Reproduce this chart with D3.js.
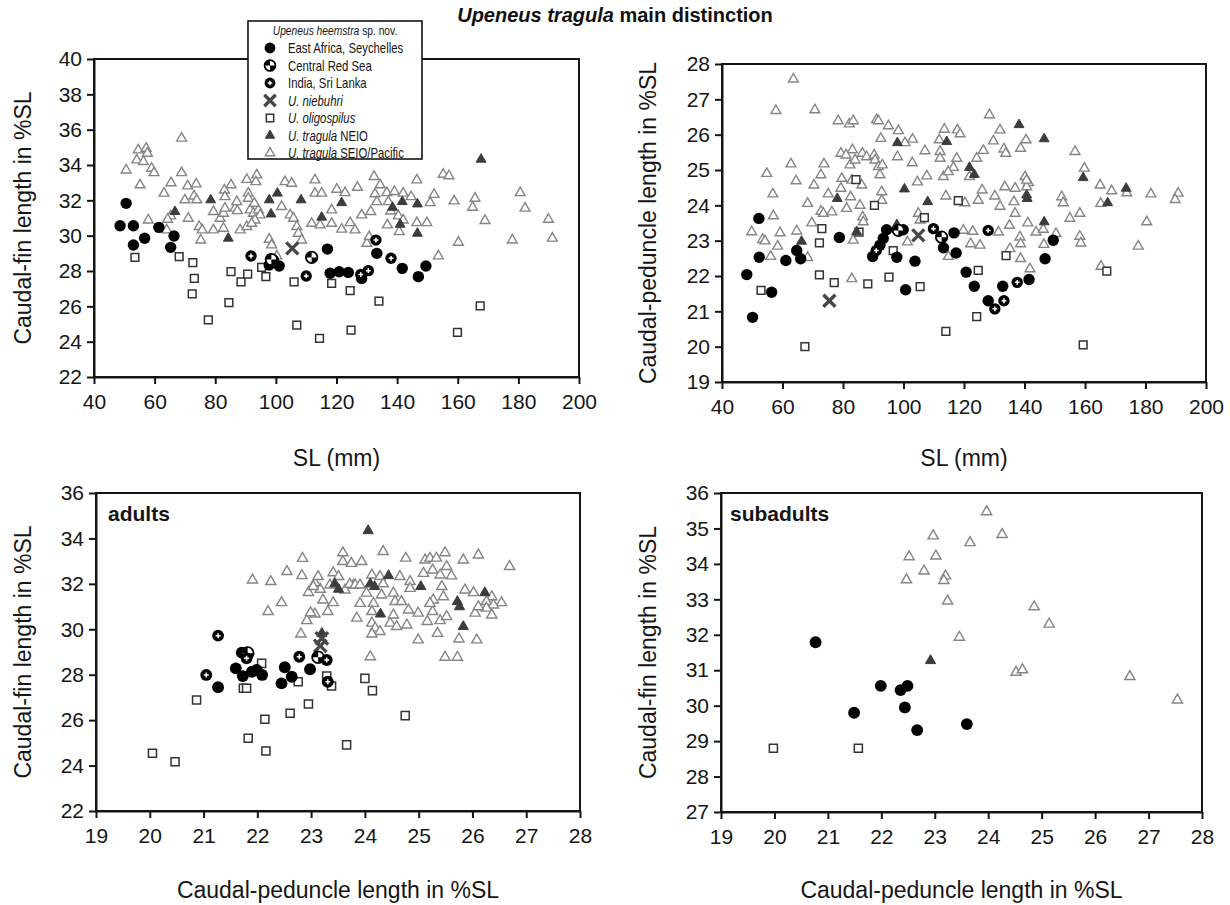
<!DOCTYPE html>
<meta charset="utf-8">
<style>
body { margin: 0; background: #fff; }
svg { font-family: "Liberation Sans", Arial, Helvetica, sans-serif; }
.axis text { font-size: 21px; fill: #151515; font-family: "Liberation Sans", Arial, sans-serif; }
.axis line, .axis path { stroke: #151515; stroke-width: 2; }
.atitle { font-size: 23px; fill: #151515; }
.leg { font-size: 14px; fill: #151515; }
</style>
<body>
<script src="https://d3js.org/d3.v7.min.js"></script>
<script>

// ---- tick labels
var slTicks = [40, 60, 80, 100, 120, 140, 160, 180, 200];
var finTicksTop = [22, 24, 26, 28, 30, 32, 34, 36, 38, 40];
var pedTicksTop = [19, 20, 21, 22, 23, 24, 25, 26, 27, 28];
var pedTicksBottom = [19, 20, 21, 22, 23, 24, 25, 26, 27, 28];
var finTicksAdults = [22, 24, 26, 28, 30, 32, 34, 36];
var finTicksSub = [27, 28, 29, 30, 31, 32, 33, 34, 35, 36];

// ---- panel 1: SL (mm) vs caudal-fin length %SL
var p1EastAfrica = [[50.6,31.83],[48.6,30.56],[53.0,30.56],[53.0,29.47],[56.7,29.85],[61.4,30.47],[66.4,29.98],[65.3,29.34],[99.2,28.62],[97.8,28.34],[101.1,28.28],[117.0,29.24],[117.9,27.87],[120.9,27.96],[123.9,27.92],[128.3,27.58],[133.3,29.0],[141.7,28.15],[147.0,27.68],[149.5,28.28]];
var p1RedSea = [[111.8,28.77],[98.5,28.65]];
var p1India = [[91.8,28.85],[110.0,27.72],[133.0,29.75],[138.0,28.72],[130.5,28.02],[128.0,27.8]];
var p1Niebuhri = [[105.4,29.28]];
var p1Oligospilus = [[53.5,28.77],[68.1,28.81],[72.6,28.47],[73.1,27.58],[72.4,26.70],[77.7,25.23],[84.5,26.21],[85.2,27.96],[88.5,27.39],[90.7,27.83],[95.3,28.21],[96.7,27.68],[106.0,27.39],[106.9,24.94],[114.4,24.19],[118.4,27.30],[124.5,26.89],[134.0,26.30],[124.8,24.66],[159.9,24.53],[167.4,26.03]];
var p1Neio = [[66.7,31.36],[78.5,32.02],[84.3,29.85],[97.8,32.02],[100.5,32.40],[98.4,31.22],[108.3,32.02],[121.7,31.86],[115.1,31.04],[138.5,31.60],[141.7,31.92],[146.7,31.79],[141.0,30.64],[146.7,30.13],[167.7,34.32]];
var p1Seio = [[50.6,33.71],[54.6,34.85],[54.1,34.28],[57.2,34.94],[57.6,34.66],[56.3,34.19],[59.0,33.81],[59.8,33.56],[55.2,32.87],[57.9,30.88],[63.1,32.40],[65.4,32.99],[68.9,35.51],[68.9,33.56],[70.9,32.81],[73.7,32.92],[70.0,32.02],[73.0,32.24],[73.9,32.02],[71.1,30.98],[74.7,30.51],[75.7,30.32],[75.2,29.75],[65.3,31.11],[64.3,30.92],[64.0,30.32],[79.4,30.32],[79.4,31.36],[81.6,30.98],[82.7,31.26],[83.2,31.55],[83.0,32.58],[85.2,32.87],[83.2,32.20],[86.5,31.55],[87.3,31.41],[87.1,31.92],[82.7,30.41],[88.2,30.32],[90.4,30.51],[90.4,33.18],[90.9,32.40],[90.9,32.11],[93.7,33.43],[93.4,33.05],[91.5,31.45],[92.6,31.26],[94.2,31.45],[94.8,31.17],[92.9,31.83],[93.1,30.88],[92.0,30.69],[97.8,29.79],[98.6,29.47],[100.3,28.85],[101.9,31.64],[103.0,33.05],[105.2,32.96],[104.7,31.17],[105.8,30.98],[106.9,30.51],[107.4,30.13],[108.5,29.75],[112.9,33.15],[112.9,32.40],[111.8,30.69],[115.1,32.40],[120.1,32.62],[122.8,32.43],[126.9,32.73],[132.4,33.34],[134.4,32.87],[132.7,32.36],[136.6,32.43],[139.1,32.49],[142.0,32.40],[144.6,32.20],[146.5,33.15],[152.2,32.33],[155.2,33.47],[157.1,33.38],[158.8,31.96],[165.7,32.11],[164.9,31.60],[169.0,30.85],[180.6,32.43],[182.2,31.55],[189.9,30.92],[191.2,29.85],[178.0,29.75],[160.2,29.62],[153.6,28.85],[149.8,30.73],[146.5,30.73],[150.9,31.86],[137.1,31.92],[133.3,31.92],[131.3,31.36],[128.3,31.17],[124.5,30.73],[121.7,30.36],[126.1,30.32],[136.8,30.60],[140.7,30.22],[130.0,29.56],[130.8,29.94],[118.4,30.69],[114.6,30.60],[118.4,31.45],[137.9,31.39],[140.4,31.11],[142.0,30.88]];

// ---- panel 2: SL (mm) vs caudal-peduncle length %SL
var p2EastAfrica = [[48.2,22.04],[50.1,20.83],[52.2,23.63],[52.3,22.53],[56.4,21.54],[61.1,22.44],[64.7,22.72],[66.0,22.49],[78.8,23.09],[89.8,22.55],[92.2,22.87],[93.3,23.06],[94.4,23.31],[97.8,22.53],[100.7,21.61],[99.9,23.31],[103.8,22.42],[113.2,22.80],[116.7,23.22],[117.4,22.65],[120.7,22.11],[123.4,21.71],[128.0,21.30],[132.8,21.71],[141.5,21.90],[146.8,22.49],[149.5,23.01]];
var p2RedSea = [[112.6,23.10],[98.3,23.29]];
var p2India = [[91.0,22.72],[109.9,23.34],[128.0,23.29],[130.2,21.07],[133.2,21.30],[137.6,21.82]];
var p2Niebuhri = [[75.5,21.30],[104.9,23.15]];
var p2Oligospilus = [[52.9,21.59],[67.4,20.0],[73.0,23.34],[72.2,22.94],[72.2,22.03],[77.1,21.81],[84.3,24.73],[85.3,23.24],[88.2,21.78],[90.4,24.0],[96.6,22.72],[95.2,21.97],[106.9,23.65],[105.5,21.70],[114.0,20.43],[118.1,24.13],[124.7,22.16],[124.2,20.85],[133.9,22.58],[159.4,20.05],[167.2,22.14]];
var p2Neio = [[66.3,22.98],[78.1,24.19],[84.5,23.25],[97.8,23.45],[98.0,25.77],[100.3,24.46],[108.0,24.10],[114.3,25.80],[121.8,25.07],[123.4,24.87],[138.2,26.28],[146.5,25.88],[159.4,24.78],[173.6,24.48],[167.5,24.07],[140.7,24.29],[140.9,24.19],[146.5,23.53]];
var p2Seio = [[63.6,27.57],[57.8,26.68],[70.7,26.70],[78.4,26.39],[82.1,26.30],[83.4,26.39],[91.1,26.42],[91.7,26.39],[95.0,26.25],[98.3,26.11],[103.0,25.87],[92.5,25.89],[100.5,25.77],[62.8,25.17],[54.8,24.90],[56.8,24.32],[64.5,24.69],[57.0,23.70],[49.8,23.25],[53.4,23.03],[54.2,22.99],[56.1,22.55],[59.2,23.22],[58.4,22.84],[64.7,23.27],[68.3,22.52],[68.3,24.05],[70.4,24.57],[72.7,24.86],[73.7,25.17],[69.7,23.50],[72.7,23.83],[73.5,23.77],[75.1,24.32],[76.3,23.81],[79.3,25.47],[79.3,24.48],[79.6,24.76],[81.2,23.91],[82.5,24.24],[82.9,24.71],[83.1,25.57],[81.0,25.42],[82.3,25.14],[84.0,25.28],[86.4,25.47],[86.2,24.57],[85.6,24.0],[86.5,23.67],[86.7,23.53],[83.4,23.01],[82.9,21.92],[87.8,25.37],[90.3,25.42],[90.6,25.28],[91.7,25.09],[93.0,25.14],[92.2,24.86],[92.8,24.38],[92.8,24.14],[98.0,25.37],[102.9,25.20],[107.1,25.54],[104.6,24.66],[107.7,24.83],[104.9,23.77],[101.3,22.96],[105.5,23.58],[128.4,26.56],[131.9,26.13],[113.5,26.15],[117.8,26.13],[118.7,26.02],[111.8,25.85],[140.5,25.85],[129.7,25.82],[156.7,25.52],[126.4,25.55],[133.2,25.59],[138.7,25.61],[133.8,25.47],[112.1,25.52],[112.1,25.33],[117.6,25.33],[124.2,25.33],[116.5,25.07],[113.2,24.81],[121.8,24.81],[114.8,24.95],[159.8,25.05],[140.2,24.81],[141.3,24.64],[126.0,24.43],[133.5,24.52],[136.9,24.48],[130.2,24.26],[124.7,24.14],[114.0,24.26],[120.3,24.07],[131.9,23.97],[136.5,24.10],[140.7,24.52],[140.7,24.71],[152.3,24.24],[152.8,24.07],[165.0,24.57],[168.8,24.41],[173.8,24.35],[181.8,24.32],[190.8,24.34],[189.8,24.16],[165.2,24.05],[136.9,23.77],[141.1,23.50],[143.8,23.24],[135.0,23.43],[131.4,23.24],[122.9,23.26],[119.8,23.29],[122.2,22.91],[125.3,22.87],[135.2,22.77],[138.5,23.10],[138.7,22.91],[138.7,22.49],[141.8,22.20],[146.2,23.32],[146.4,22.89],[150.4,23.20],[155.0,23.63],[158.3,23.77],[158.3,23.12],[158.6,22.93],[165.3,22.27],[177.6,22.84],[180.4,23.53],[114.8,22.55]];

// ---- panel 3: adults, peduncle vs fin
var p3EastAfrica = [[21.27,27.45],[21.60,28.28],[21.71,28.97],[21.73,27.94],[21.90,28.13],[21.99,28.21],[22.09,27.99],[22.45,27.62],[22.51,28.33],[22.64,27.91],[22.98,28.24]];
var p3RedSea = [[23.13,28.77],[21.82,28.95]];
var p3India = [[21.27,29.72],[21.05,27.99],[21.80,28.72],[22.78,28.79],[23.29,28.65],[23.31,27.69]];
var p3Niebuhri = [[23.17,29.27],[23.2,29.6]];
var p3Oligospilus = [[20.87,26.89],[20.05,24.54],[20.47,24.17],[22.14,26.04],[21.83,25.20],[22.16,24.64],[22.61,26.30],[22.95,26.71],[21.74,27.40],[21.80,27.40],[22.08,28.50],[22.76,27.69],[23.66,24.91],[23.29,27.94],[23.38,27.50],[24.0,27.84],[24.14,27.30],[24.75,26.20]];
var p3Neio = [[23.20,29.82],[23.44,32.0],[23.51,31.76],[24.06,34.34],[24.44,32.36],[24.10,32.0],[24.18,31.88],[25.04,31.88],[24.29,30.67],[25.72,31.22],[25.76,30.99],[26.23,31.61],[25.83,30.12]];
var p3Seio = [[21.91,32.17],[22.25,32.10],[22.55,32.54],[22.84,33.12],[22.83,32.36],[22.45,31.17],[22.20,30.78],[22.81,29.79],[22.92,30.38],[23.07,30.67],[23.31,30.78],[22.95,31.62],[23.17,31.76],[23.22,31.29],[23.07,32.05],[23.41,31.17],[23.59,33.37],[23.59,32.98],[23.75,32.90],[23.41,32.49],[23.51,32.32],[23.13,32.32],[22.99,30.73],[23.04,31.88],[23.35,31.95],[23.63,31.73],[23.79,31.95],[23.85,30.49],[23.94,32.98],[24.34,33.42],[24.76,33.13],[25.12,33.05],[25.21,33.13],[25.33,33.13],[25.49,33.37],[25.83,33.05],[26.11,33.27],[26.69,32.76],[23.72,31.98],[23.82,31.95],[23.91,31.95],[24.13,32.39],[24.28,32.32],[24.65,32.32],[24.84,32.10],[25.09,32.46],[25.26,32.61],[25.40,32.39],[25.52,32.76],[25.61,32.35],[24.84,31.80],[25.43,31.88],[25.86,31.73],[26.02,31.61],[26.36,31.43],[26.54,31.17],[26.26,31.22],[26.39,31.07],[26.26,30.93],[26.05,30.71],[26.36,30.63],[26.11,30.99],[23.91,31.14],[24.03,31.59],[24.16,31.14],[24.31,31.51],[24.53,31.59],[24.56,31.22],[24.68,31.22],[24.81,30.85],[24.13,30.78],[24.13,30.27],[24.19,30.05],[24.28,29.90],[24.13,29.79],[24.47,30.27],[24.59,30.12],[24.78,30.19],[24.53,30.63],[24.99,30.71],[25.16,30.34],[25.26,30.78],[25.40,30.38],[25.52,30.56],[25.27,31.29],[25.46,31.43],[25.21,31.14],[24.99,29.53],[25.35,29.82],[25.75,29.57],[26.08,29.53],[24.10,28.79],[25.49,28.77],[25.72,28.77],[24.34,32.0]];

// ---- panel 4: subadults, peduncle vs fin
var p4EastAfrica = [[20.77,31.79],[21.49,29.80],[21.99,30.56],[22.36,30.44],[22.49,30.56],[22.44,29.95],[22.67,29.31],[23.60,29.48]];
var p4Oligospilus = [[19.98,28.80],[21.57,28.80]];
var p4Neio = [[22.92,31.27]];
var p4Seio = [[23.97,35.47],[22.97,34.79],[24.26,34.83],[23.66,34.60],[22.52,34.20],[23.02,34.22],[22.80,33.80],[22.47,33.55],[23.20,33.66],[23.17,33.53],[23.24,32.95],[24.86,32.79],[25.14,32.30],[23.46,31.93],[24.52,30.94],[24.64,31.01],[26.65,30.82],[27.54,30.16]];

// ---- legend entries
var legendTypes = ["east", "redsea", "india", "niebuhri", "oligo", "neio", "seio"];
var legendItalic = ["", "", "", "U. niebuhri", "U. oligospilus", "U. tragula", "U. tragula"];
var legendPlain = ["East Africa, Seychelles", "Central Red Sea", "India, Sri Lanka", "", "", " NEIO", " SEIO/Pacific"];

var width = 1230, height = 905;

var svg = d3.select("body").append("svg")
    .attr("width", width)
    .attr("height", height);

// markers
function marker(g, type, ms) {
  var r = 5.7 * ms;
  if (type == "east") {
    g.append("circle").attr("r", r).attr("fill", "#000");
  } else if (type == "redsea") {
    g.append("circle").attr("r", r).attr("fill", "#fff").attr("stroke", "#000").attr("stroke-width", 1.8);
    var arc = d3.arc().innerRadius(0).outerRadius(r);
    g.append("path").attr("d", arc({startAngle: -Math.PI / 2, endAngle: 0})).attr("fill", "#000");
    g.append("path").attr("d", arc({startAngle: Math.PI / 2, endAngle: Math.PI})).attr("fill", "#000");
  } else if (type == "india") {
    g.append("circle").attr("r", r).attr("fill", "#000");
    g.append("path").attr("d", "M" + (-2.4 * ms) + ",0H" + (2.4 * ms) + "M0," + (-2.4 * ms) + "V" + (2.4 * ms))
      .attr("stroke", "#fff").attr("stroke-width", 1.5);
  } else if (type == "niebuhri") {
    var h = 6 * ms;
    g.append("path").attr("d", "M" + -h + "," + -h + "L" + h + "," + h + "M" + -h + "," + h + "L" + h + "," + -h)
      .attr("stroke", "#474747").attr("stroke-width", 3.4);
  } else if (type == "oligo") {
    g.append("path").attr("d", d3.symbol(d3.symbolSquare, 60 * ms * ms)())
      .attr("fill", "#fff").attr("stroke", "#333").attr("stroke-width", 1.5);
  } else if (type == "neio") {
    g.append("path").attr("d", d3.symbol(d3.symbolTriangle, 42 * ms * ms)())
      .attr("fill", "#3c3c3c").attr("stroke", "#3c3c3c").attr("stroke-width", 1);
  } else if (type == "seio") {
    g.append("path").attr("d", d3.symbol(d3.symbolTriangle, 42 * ms * ms)())
      .attr("fill", "#fff").attr("stroke", "#858585").attr("stroke-width", 1.4);
  }
}

function drawSeries(g, data, type, x, y, ms) {
  g.selectAll(".m-" + type)
    .data(data)
    .enter().append("g")
      .attr("class", "m-" + type)
      .attr("transform", function(d) { return "translate(" + x(d[0]) + "," + y(d[1]) + ")"; })
      .each(function() { marker(d3.select(this), type, ms); });
}

var panels = [
  {left: 94, right: 579, top: 59, bottom: 377, xDom: [40, 200], yDom: [22, 40], xTicks: slTicks, yTicks: finTicksTop,
   xTitle: "SL (mm)", xTitleY: 466, yTitle: "Caudal-fin length in %SL", yTitleX: 31, ms: 1,
   series: [["seio", p1Seio], ["oligo", p1Oligospilus], ["neio", p1Neio], ["niebuhri", p1Niebuhri], ["east", p1EastAfrica], ["redsea", p1RedSea], ["india", p1India]]},
  {left: 722, right: 1206, top: 64, bottom: 382, xDom: [40, 200], yDom: [19, 28], xTicks: slTicks, yTicks: pedTicksTop,
   xTitle: "SL (mm)", xTitleY: 466, yTitle: "Caudal-peduncle length in %SL", yTitleX: 656, ms: 1,
   series: [["seio", p2Seio], ["oligo", p2Oligospilus], ["neio", p2Neio], ["niebuhri", p2Niebuhri], ["east", p2EastAfrica], ["redsea", p2RedSea], ["india", p2India]]},
  {left: 96, right: 580, top: 493, bottom: 811, xDom: [19, 28], yDom: [22, 36], xTicks: pedTicksBottom, yTicks: finTicksAdults,
   xTitle: "Caudal-peduncle length in %SL", xTitleY: 898, yTitle: "Caudal-fin length in %SL", yTitleX: 31, ms: 1.04, label: "adults", labelX: 108,
   series: [["seio", p3Seio], ["oligo", p3Oligospilus], ["neio", p3Neio], ["niebuhri", p3Niebuhri], ["east", p3EastAfrica], ["redsea", p3RedSea], ["india", p3India]]},
  {left: 721, right: 1202, top: 493, bottom: 812, xDom: [19, 28], yDom: [27, 36], xTicks: pedTicksBottom, yTicks: finTicksSub,
   xTitle: "Caudal-peduncle length in %SL", xTitleY: 898, yTitle: "Caudal-fin length in %SL", yTitleX: 656, ms: 1.04, label: "subadults", labelX: 730,
   series: [["seio", p4Seio], ["oligo", p4Oligospilus], ["neio", p4Neio], ["east", p4EastAfrica]]}
];

panels.forEach(function(p) {
  var g = svg.append("g");
  var x = d3.scaleLinear().domain(p.xDom).range([p.left, p.right]);
  var y = d3.scaleLinear().domain(p.yDom).range([p.bottom, p.top]);

  p.series.forEach(function(s) { drawSeries(g, s[1], s[0], x, y, p.ms); });

  g.append("rect")
    .attr("x", p.left).attr("y", p.top)
    .attr("width", p.right - p.left).attr("height", p.bottom - p.top)
    .attr("fill", "none").attr("stroke", "#151515").attr("stroke-width", 2);

  g.append("g").attr("class", "axis")
    .attr("transform", "translate(0," + p.bottom + ")")
    .call(d3.axisBottom(x).tickValues(p.xTicks).tickFormat(d3.format("d")).tickSizeInner(7).tickSizeOuter(0).tickPadding(10));

  g.append("g").attr("class", "axis")
    .attr("transform", "translate(" + p.left + ",0)")
    .call(d3.axisLeft(y).tickValues(p.yTicks).tickFormat(d3.format("d")).tickSizeInner(7).tickSizeOuter(0).tickPadding(5));

  g.append("text").attr("class", "atitle")
    .attr("x", (p.left + p.right) / 2).attr("y", p.xTitleY)
    .attr("text-anchor", "middle")
    .text(p.xTitle);

  g.append("text").attr("class", "atitle")
    .attr("transform", "translate(" + p.yTitleX + "," + (p.top + p.bottom) / 2 + ")rotate(-90)")
    .attr("text-anchor", "middle")
    .text(p.yTitle);

  if (p.label) {
    g.append("text")
      .attr("x", p.labelX).attr("y", p.top + 28)
      .attr("font-size", 21).attr("font-weight", "bold").attr("fill", "#151515")
      .text(p.label);
  }
});

// title
var title = svg.append("text")
    .attr("x", 615).attr("y", 22)
    .attr("text-anchor", "middle")
    .attr("font-size", 20).attr("font-weight", "bold").attr("fill", "#111");
title.append("tspan").attr("font-style", "italic").text("Upeneus tragula");
title.append("tspan").text(" main distinction");

// legend
var leg = svg.append("g");
leg.append("rect")
  .attr("x", 248).attr("y", 21).attr("width", 174).attr("height", 138)
  .attr("fill", "#fff").attr("stroke", "#151515").attr("stroke-width", 1.6);

var head = leg.append("text")
  .attr("transform", "translate(335,35)scale(0.82,1)")
  .attr("text-anchor", "middle").attr("font-size", 12.5).attr("fill", "#151515");
head.append("tspan").attr("font-style", "italic").text("Upeneus heemstra");
head.append("tspan").text(" sp. nov.");

legendTypes.forEach(function(t, i) {
  var yy = 48 + i * 17.5;
  var mg = leg.append("g").attr("transform", "translate(270," + yy + ")");
  marker(mg, t, 0.95);
  var tx = leg.append("text").attr("class", "leg")
    .attr("transform", "translate(288," + (yy + 5) + ")scale(0.81,1)");
  if (legendItalic[i]) tx.append("tspan").attr("font-style", "italic").text(legendItalic[i]);
  if (legendPlain[i]) tx.append("tspan").text(legendPlain[i]);
});

</script>
